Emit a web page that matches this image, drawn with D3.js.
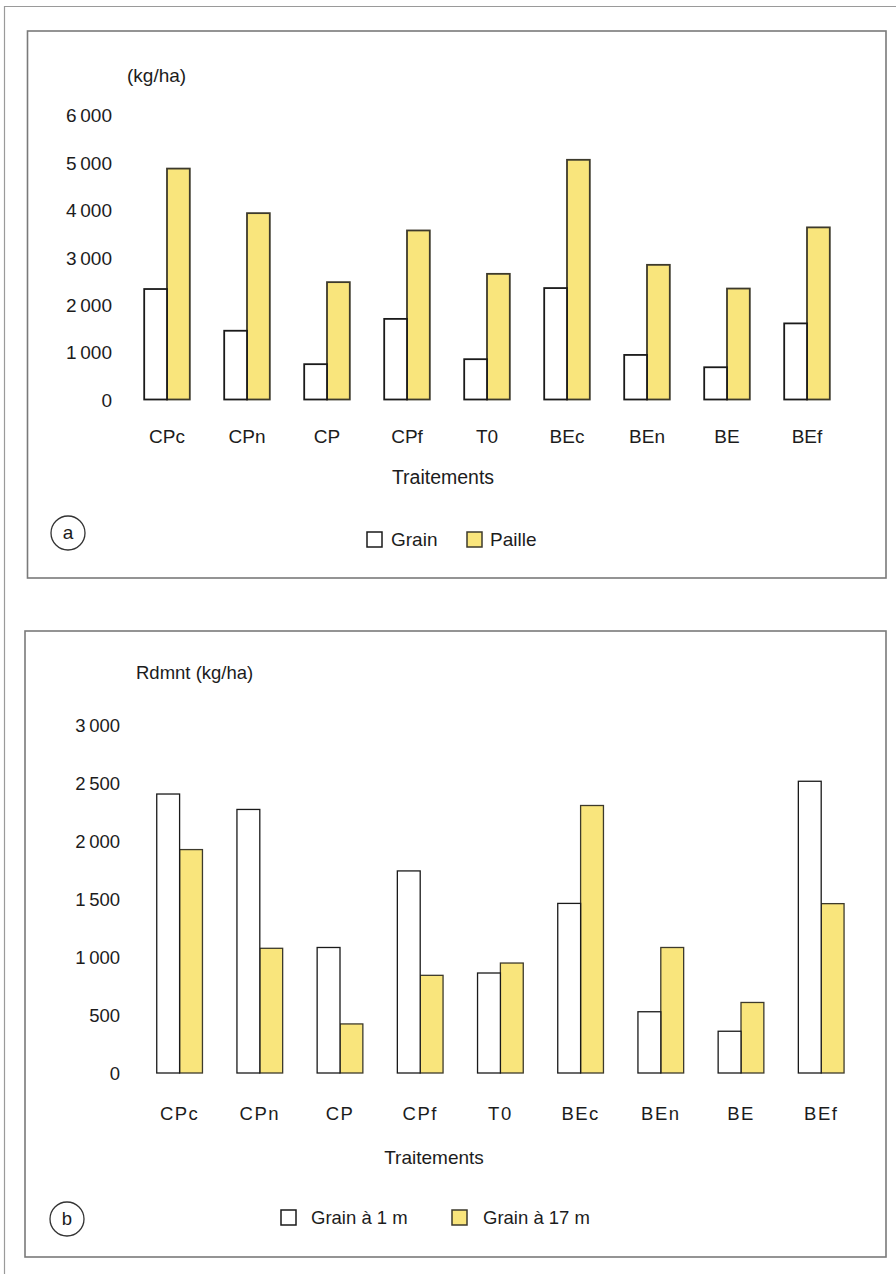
<!DOCTYPE html>
<html>
<head>
<meta charset="utf-8">
<script src="https://cdn.jsdelivr.net/npm/d3@7"></script>
<style>
  html, body { margin: 0; padding: 0; background: #fff; }
  svg { display: block; }
  text { font-family: "Liberation Sans", Arial, Helvetica, sans-serif; fill: #1c1c1c; }
</style>
</head>
<body>
<svg id="chart" width="896" height="1274"></svg>
<script>
// ---------- data ----------
const categories = ["CPc", "CPn", "CP", "CPf", "T0", "BEc", "BEn", "BE", "BEf"];

// Panel a (kg/ha)
const seriesA = ["Grain", "Paille"];
const grainA  = [2330, 1450, 745, 1700, 850, 2350, 940, 680, 1605];
const pailleA = [4870, 3930, 2475, 3565, 2650, 5055, 2840, 2340, 3630];
const ticksA  = [0, 1000, 2000, 3000, 4000, 5000, 6000];

// Panel b (Rdmnt kg/ha)
const seriesB = ["Grain à 1 m", "Grain à 17 m"];
const grain1m  = [2405, 2272, 1082, 1742, 862, 1462, 528, 360, 2515];
const grain17m = [1926, 1075, 423, 842, 948, 2306, 1082, 608, 1460];
const ticksB   = [0, 500, 1000, 1500, 2000, 2500, 3000];

// ---------- styling ----------
const YELLOW = "#f9e57c";
const fmt = d3.formatLocale({decimal: ",", thousands: "\u2009", grouping: [3], currency: ["", ""]}).format(",d");

const svg = d3.select("#chart");

// outer page frame (left + top)
svg.append("path").attr("d", "M4.5,1274 L4.5,6.5 L896,6.5")
  .attr("fill", "none").attr("stroke", "#9a9a9a").attr("stroke-width", 1.2);

function panel(opts) {
  const g = svg.append("g");
  // frame
  g.append("rect")
    .attr("x", opts.frame[0]).attr("y", opts.frame[1])
    .attr("width", opts.frame[2] - opts.frame[0]).attr("height", opts.frame[3] - opts.frame[1])
    .attr("fill", "none").attr("stroke", "#7a7a7a").attr("stroke-width", 1.6);

  const x0 = d3.scaleBand().domain(categories).range(opts.xRange)
    .paddingInner(0.43).paddingOuter(0.215);
  const x1 = d3.scaleBand().domain(opts.series).range([0, x0.bandwidth()]).padding(0);
  const y = d3.scaleLinear().domain([0, opts.yMax]).range(opts.yRange);

  // y axis labels (no line, no ticks)
  const yAxis = g.append("g").attr("transform", `translate(${opts.yLabelX},0)`)
    .call(d3.axisLeft(y).tickValues(opts.ticks).tickFormat(fmt).tickSize(0).tickPadding(0));
  yAxis.select(".domain").remove();
  yAxis.selectAll("text")
    .attr("font-size", opts.fs).attr("font-family", "Liberation Sans, Arial, sans-serif")
    .attr("fill", "#1c1c1c").attr("dy", "0.36em");

  // x axis labels
  const xAxis = g.append("g").attr("transform", `translate(0,${y(0)})`)
    .call(d3.axisBottom(x0).tickSize(0));
  xAxis.select(".domain").remove();
  xAxis.selectAll("text")
    .attr("font-size", opts.fs).attr("font-family", "Liberation Sans, Arial, sans-serif")
    .attr("fill", "#1c1c1c")
    .attr("y", opts.catY - y(0)).attr("dy", "0.36em")
    .attr("letter-spacing", opts.catSpacing);

  // bars
  const rows = categories.map((c, i) => ({cat: c, vals: opts.values.map(v => v[i])}));
  const grp = g.append("g").selectAll("g").data(rows).join("g")
    .attr("transform", d => `translate(${x0(d.cat)},0)`);
  grp.selectAll("rect")
    .data(d => d.vals.map((v, k) => ({key: opts.series[k], v, k})))
    .join("rect")
    .attr("x", d => x1(d.key))
    .attr("y", d => y(d.v))
    .attr("width", x1.bandwidth())
    .attr("height", d => y(0) - y(d.v))
    .attr("fill", d => d.k === 0 ? "#ffffff" : YELLOW)
    .attr("stroke", d => d.k === 0 ? "#1a1a1a" : "#3d3a2c")
    .attr("stroke-width", opts.barStroke);
  // redraw white bars on top so the shared edge is dark
  grp.selectAll("rect").filter(d => d.k === 0).raise();

  // y unit label
  g.append("text").attr("x", opts.unit[0]).attr("y", opts.unit[1]).attr("dy", "0.36em")
    .attr("font-size", opts.fs).text(opts.unitText);

  // axis title
  g.append("text").attr("x", opts.title[0]).attr("y", opts.title[1]).attr("dy", "0.36em")
    .attr("text-anchor", "middle").attr("font-size", opts.fs + 0.5).text("Traitements");

  // panel letter
  g.append("circle").attr("cx", opts.letter[0]).attr("cy", opts.letter[1]).attr("r", 17)
    .attr("fill", "none").attr("stroke", "#333").attr("stroke-width", 1.3);
  g.append("text").attr("x", opts.letter[0]).attr("y", opts.letter[1]).attr("dy", "0.33em")
    .attr("text-anchor", "middle").attr("font-size", opts.fs).text(opts.letterText);

  // legend
  opts.legend.forEach((L, k) => {
    g.append("rect").attr("x", L.sx).attr("y", L.sy).attr("width", L.sw).attr("height", 15)
      .attr("fill", k === 0 ? "#fff" : YELLOW)
      .attr("stroke", k === 0 ? "#1a1a1a" : "#3d3a2c").attr("stroke-width", 1.5);
    g.append("text").attr("x", L.tx).attr("y", L.sy + 7.5).attr("dy", "0.36em")
      .attr("font-size", opts.fs).text(opts.series[k]);
  });
}

panel({
  frame: [27.5, 31, 886, 578],
  xRange: [127, 847],
  yRange: [399.5, 115],
  yMax: 6000,
  ticks: ticksA,
  yLabelX: 112,
  fs: 19,
  catY: 436.5,
  catSpacing: 0,
  series: seriesA,
  values: [grainA, pailleA],
  barStroke: 1.8,
  unit: [127, 75], unitText: "(kg/ha)",
  title: [443, 477],
  letter: [68, 533], letterText: "a",
  legend: [{sx: 367, sy: 532, sw: 15, tx: 391}, {sx: 467, sy: 532, sw: 15, tx: 490}]
});

panel({
  frame: [25, 631, 886, 1257],
  xRange: [139.5, 861.3],
  yRange: [1073, 725],
  yMax: 3000,
  ticks: ticksB,
  yLabelX: 120,
  fs: 18.5,
  catY: 1113,
  catSpacing: 1.5,
  series: seriesB,
  values: [grain1m, grain17m],
  barStroke: 1.3,
  unit: [136, 672], unitText: "Rdmnt (kg/ha)",
  title: [434, 1157],
  letter: [67, 1219], letterText: "b",
  legend: [{sx: 281, sy: 1210, sw: 15, tx: 311}, {sx: 452, sy: 1210, sw: 15, tx: 483}]
});
</script>
</body>
</html>
